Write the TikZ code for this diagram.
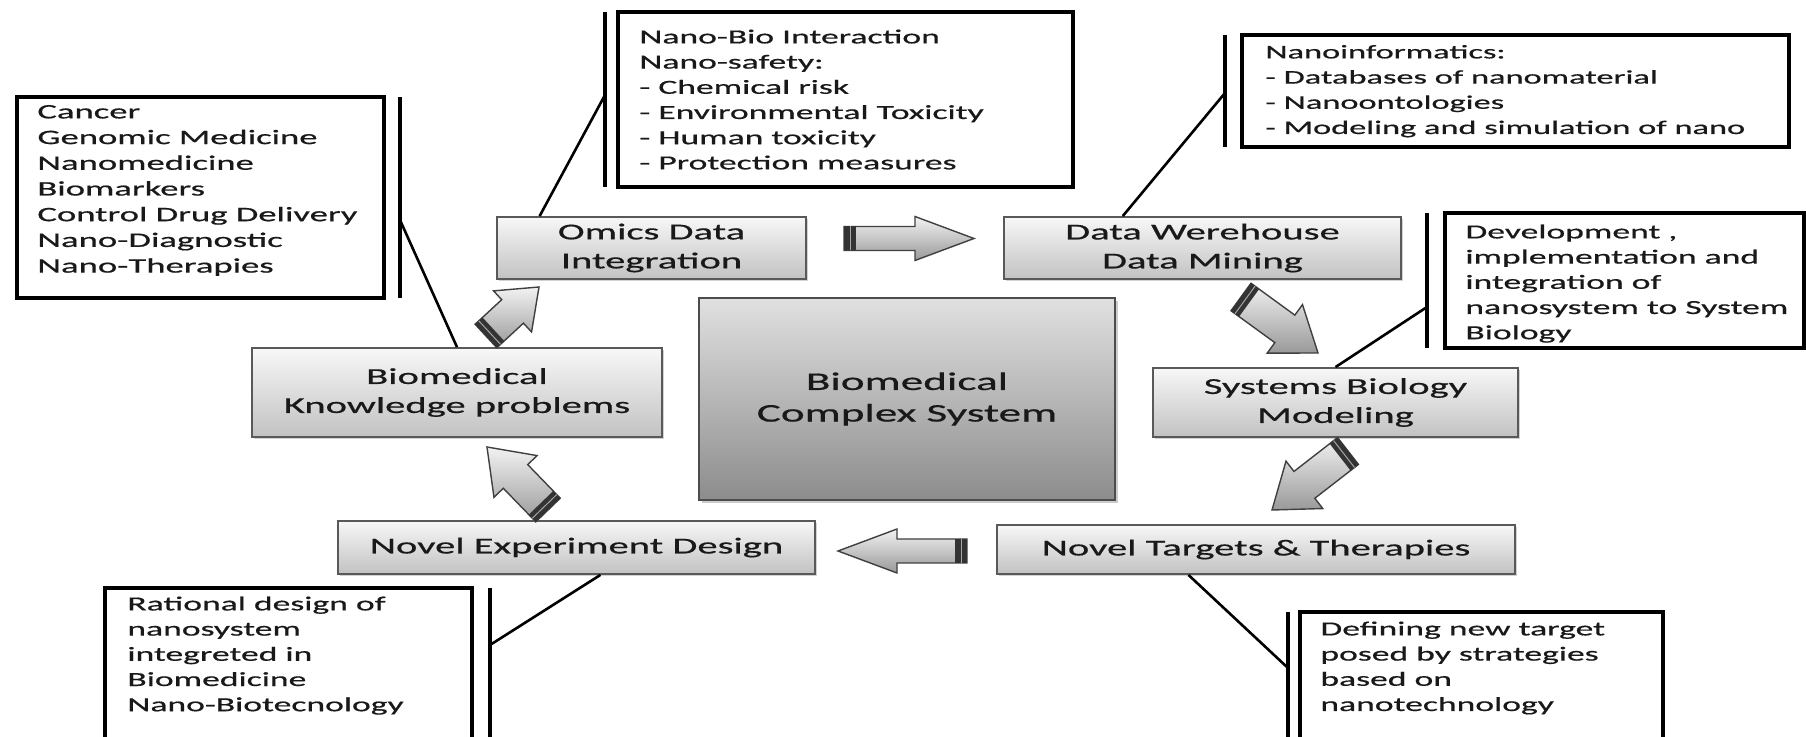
\documentclass[tikz,border=0pt]{standalone}
\usepackage{fontspec}
\setmainfont{Carlito}[FakeStretch=1.78,FakeBold=0.6]
\usetikzlibrary{calc,shadows}
\definecolor{txt}{gray}{0.1}
\tikzset{
  lbox/.style={draw=black, line width=1.7pt, fill=white, inner sep=0pt},
  vbar/.style={line width=1.7pt, black},
  conn/.style={line width=1.3pt, black},
  ltext/.style={inner sep=0pt, anchor=north west, align=left, text=txt, font=\fontsize{10}{12.6}\selectfont},
  gbox/.style={draw=black!65, line width=0.9pt, top color=black!3, bottom color=black!24,
    drop shadow={opacity=0.35, shadow xshift=1.2pt, shadow yshift=-1.2pt},
    text=txt, align=center, font=\fontsize{11.4}{14.5}\selectfont, inner sep=0pt},
  cbox/.style={draw=black!70, line width=1pt, top color=black!12, bottom color=black!45,
    drop shadow={opacity=0.4, shadow xshift=1.5pt, shadow yshift=-1.5pt},
    text=txt, align=center, font=\fontsize{12.7}{15.8}\selectfont, inner sep=0pt},
  arrfill/.style={draw=black!75, line width=0.7pt, top color=black!5, bottom color=black!40},
}
\newcommand{\blkarrow}[6]{%
  \path ($(#2)!#3!(#1)$) coordinate (hb);
  \path ($(#1)!#6!(#2)$) coordinate (tb);
  \path ($(#1)!0.5!(tb)$) coordinate (tm);
  \draw[arrfill] ($(#1)!#5!90:(#2)$) -- ($(hb)!#5!90:(#2)$) -- ($(hb)!#4!90:(#2)$) -- (#2)
     -- ($(hb)!#4!270:(#2)$) -- ($(hb)!#5!270:(#2)$) -- ($(#1)!#5!270:(#2)$) -- cycle;
  \fill[black!80] ($(#1)!#5!90:(#2)$) -- ($(tb)!#5!90:(#2)$) -- ($(tb)!#5!270:(#2)$) -- ($(#1)!#5!270:(#2)$) -- cycle;
  \draw[black!35, line width=0.5pt] ($(tm)!#5!90:(#2)$) -- ($(tm)!#5!270:(#2)$);
}
\begin{document}
\begin{tikzpicture}[x=0.5pt,y=-0.5pt]
\useasboundingbox (0,0) rectangle (1806,737);
\fill[white] (0,0) rectangle (1806,737);
\clip (0,0) rectangle (1806,737);

% ---------- gray process boxes ----------
\node[gbox, minimum width=154.5pt, minimum height=31pt] (omics) at (651.5,248) {Omics Data\\Integration};
\node[gbox, minimum width=198.5pt, minimum height=31pt] (dw) at (1202.5,248) {Data Werehouse\\Data Mining};
\node[gbox, minimum width=205pt, minimum height=44.5pt] (know) at (457,392.5) {Biomedical\\Knowledge problems};
\node[cbox, minimum width=208pt, minimum height=101pt] (center) at (907,399) {Biomedical\\Complex System};
\node[gbox, minimum width=182.5pt, minimum height=34.5pt] (sb) at (1335.5,402.5) {Systems Biology\\Modeling};
\node[gbox, minimum width=259pt, minimum height=24.5pt] (nt) at (1256,549.5) {Novel Targets \& Therapies};
\node[gbox, minimum width=238.5pt, minimum height=26.5pt] (ned) at (576.5,547.5) {Novel Experiment Design};

% ---------- annotation boxes ----------
\node[lbox, minimum width=183.5pt, minimum height=100.5pt] (boxA) at (200.5,197.5) {};
\node[lbox, minimum width=227.5pt, minimum height=87.5pt] (boxB) at (845.5,99.5) {};
\node[lbox, minimum width=273.5pt, minimum height=56pt] (boxC) at (1515.5,91) {};
\node[lbox, minimum width=179.5pt, minimum height=67.5pt] (boxD) at (1624.5,280.5) {};
\node[lbox, minimum width=181.5pt, minimum height=94pt] (boxE) at (1481.5,706) {};
\node[lbox, minimum width=183.5pt, minimum height=106pt] (boxF) at (288.5,694) {};

\node[ltext, font=\fontsize{10.3}{12.85}\selectfont] (tA) at (37,102) {\rule{0pt}{8pt}Cancer\\Genomic Medicine\\Nanomedicine\\Biomarkers\\Control Drug Delivery\\Nano-Diagnostic\\Nano-Therapies};
\node[ltext] (tB) at (639,27) {\rule{0pt}{8pt}Nano-Bio Interaction\\Nano-safety:\\- Chemical risk\\- Environmental Toxicity\\- Human toxicity\\- Protection measures};
\node[ltext, font=\fontsize{9.65}{12.6}\selectfont] (tC) at (1265,42) {\rule{0pt}{8pt}Nanoinformatics:\\- Databases of nanomaterial\\- Nanoontologies\\- Modeling and simulation of nano};
\node[ltext] (tD) at (1465,222) {\rule{0pt}{8pt}Development ,\\implementation and\\integration of\\nanosystem to System\\Biology};
\node[ltext] (tE) at (1320,619) {\rule{0pt}{8pt}Defining new target\\posed by strategies\\based on\\nanotechnology};
\node[ltext] (tF) at (127,594) {\rule{0pt}{8pt}Rational design of\\nanosystem\\integreted in\\Biomedicine\\Nano-Biotecnology};

% ---------- bars and callout lines ----------
\coordinate (aT) at (400,97);  \coordinate (aB) at (400,298);  \coordinate (aH) at (400,220);
\coordinate (bT) at (605,12);  \coordinate (bB) at (605,187);  \coordinate (bH) at (605,95);
\coordinate (cT) at (1225,35); \coordinate (cB) at (1225,147); \coordinate (cH) at (1225,93);
\coordinate (dT) at (1427,213);\coordinate (dB) at (1427,348); \coordinate (dH) at (1427,307);
\coordinate (eT) at (1288,612);\coordinate (eB) at (1288,800); \coordinate (eH) at (1288,668);
\coordinate (fT) at (490,588); \coordinate (fB) at (490,800);  \coordinate (fH) at (490,645);
\foreach \v in {a,b,c,d,e,f} {\draw[vbar] (\v T) -- (\v B);}
\draw[conn] (know.north) -- (aH);
\draw[conn] ($(omics.north west)!0.14!(omics.north east)$) -- (bH);
\draw[conn] ($(dw.north west)!0.3!(dw.north east)$) -- (cH);
\draw[conn] (sb.north) -- (dH);
\draw[conn] ($(nt.south west)!0.37!(nt.south east)$) -- (eH);
\draw[conn] ($(ned.south west)!0.55!(ned.south east)$) -- (fH);

% ---------- block arrows ----------
\coordinate (r1t) at (844,238.5);  \coordinate (r1h) at (974,238.5);
\coordinate (l1t) at (967,551);    \coordinate (l1h) at (838,551);
\coordinate (d1t) at (1241,297);   \coordinate (d1h) at (1318,353);
\coordinate (d2t) at (1348,451);   \coordinate (d2h) at (1272,510);
\coordinate (u1t) at (548,510);    \coordinate (u1h) at (487,447);
\coordinate (u2t) at (486,336);    \coordinate (u2h) at (539,287);
\blkarrow{r1t}{r1h}{29.5pt}{11pt}{6pt}{6pt}
\blkarrow{l1t}{l1h}{29.5pt}{11pt}{6pt}{6pt}
\blkarrow{d1t}{d1h}{20.5pt}{15pt}{8.5pt}{5pt}
\blkarrow{d2t}{d2h}{20.5pt}{15pt}{8.5pt}{5pt}
\blkarrow{u1t}{u1h}{20.5pt}{15pt}{8.5pt}{5pt}
\blkarrow{u2t}{u2h}{18pt}{14pt}{8pt}{5pt}
\end{tikzpicture}
\end{document}
